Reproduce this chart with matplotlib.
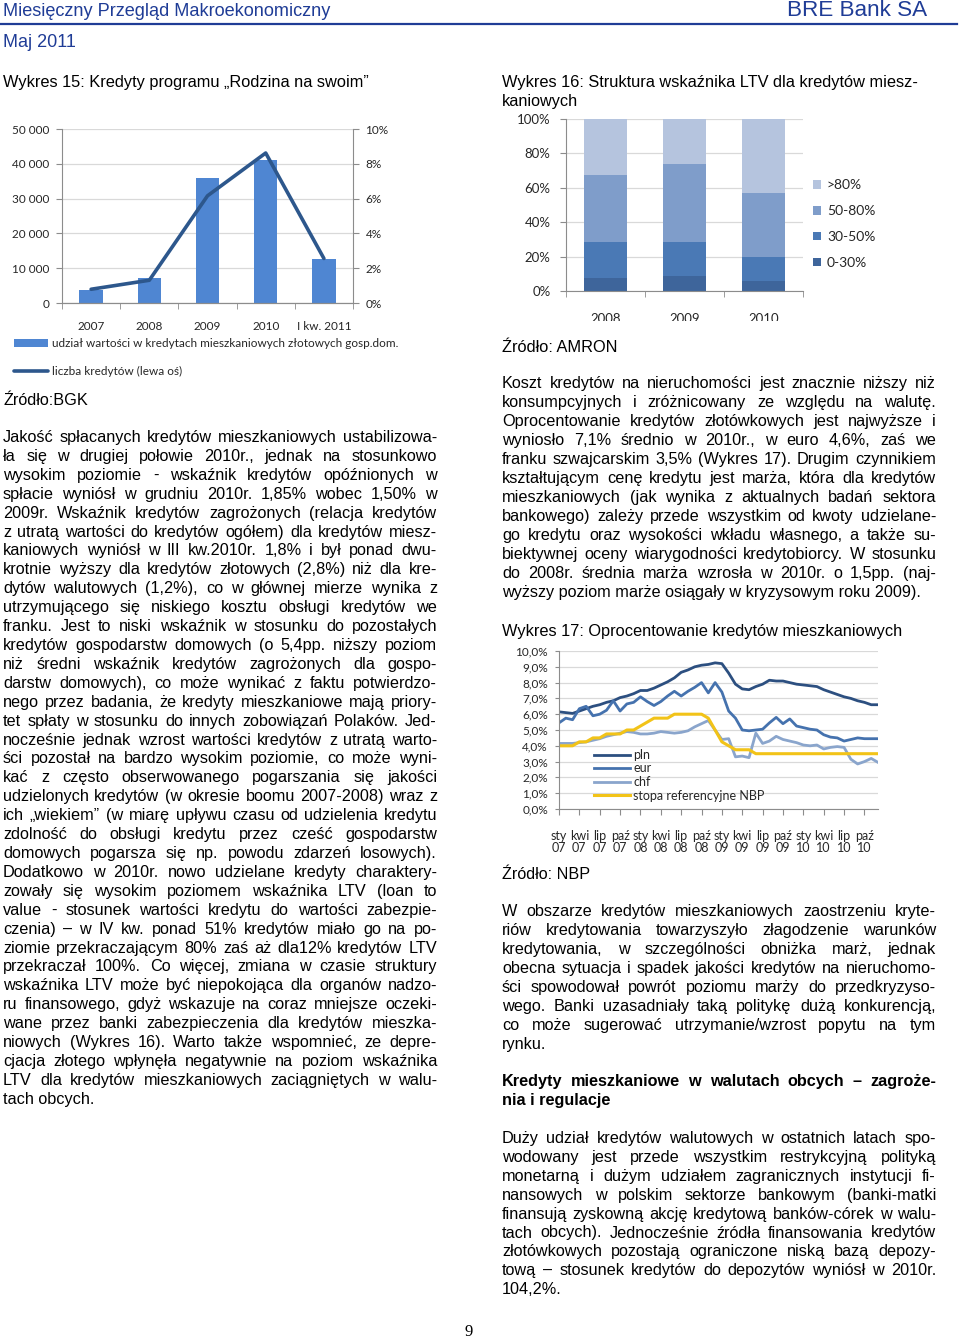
import numpy as np
import matplotlib
matplotlib.use("Agg")
import matplotlib.pyplot as plt
from matplotlib import font_manager
from matplotlib.lines import Line2D
from matplotlib.transforms import Bbox, TransformedBbox

W, H = 960, 1338
names = {f.name for f in font_manager.fontManager.ttflist}
BODY = "Liberation Sans" if "Liberation Sans" in names else "DejaVu Sans"
NARROW = "Liberation Sans Narrow" if "Liberation Sans Narrow" in names else BODY
CHART = "Lato" if "Lato" in names else BODY
NAVY = "#1f3c96"
GRID = "#d9d9d9"
AXC = "#8c8c8c"
TXT = "#262626"

#------------------------------------------------------------
# Wykres 15: Rodzina na swoim
years15 = ["2007", "2008", "2009", "2010", "I kw. 2011"]
share15 = [0.77, 1.46, 7.17, 8.23, 2.52]          # % (prawa oś)
count15 = [3950, 6540, 30800, 43100, 12800]       # liczba kredytów (lewa oś)

# Wykres 16: struktura LTV
years16 = ["2008", "2009", "2010"]
ltv_labels = ["0-30%", "30-50%", "50-80%", ">80%"]
ltv_0_30 = [7.8, 8.5, 5.8]
ltv_30_50 = [20.7, 20.0, 14.0]
ltv_50_80 = [39.1, 45.5, 37.0]
ltv_80 = [32.4, 26.0, 43.2]

# Wykres 17: oprocentowanie, sty 2007 - gru 2010
pln = [6.15, 6.10, 6.05, 6.20, 6.35, 6.50, 6.60, 6.75, 6.85, 7.05, 7.15, 7.30,
       7.50, 7.50, 7.65, 7.85, 8.05, 8.30, 8.65, 8.80, 9.00, 9.10, 9.15, 9.25,
       9.20, 8.60, 7.90, 7.60, 7.55, 7.75, 7.90, 8.15, 8.10, 8.10, 8.00, 7.90,
       7.85, 7.80, 7.75, 7.55, 7.40, 7.25, 7.10, 7.00, 6.85, 6.75, 6.60, 6.60]
eur = [5.45, 5.75, 5.65, 6.35, 6.50, 5.90, 6.00, 6.25, 6.85, 6.20, 6.65, 6.75,
       7.10, 6.80, 6.55, 6.80, 7.15, 7.45, 7.15, 7.45, 7.70, 8.00, 7.35, 8.00,
       7.40, 6.20, 5.75, 5.00, 4.95, 5.00, 5.05, 5.45, 5.80, 5.40, 5.70, 5.25,
       5.15, 5.05, 5.00, 4.70, 4.55, 4.50, 4.30, 4.40, 4.50, 4.45, 4.45, 4.45]
chf = [4.15, 4.15, 4.15, 4.20, 4.25, 4.35, 4.45, 4.60, 4.70, 4.80, 4.90, 4.85,
       4.75, 4.75, 4.80, 4.90, 4.85, 4.80, 4.85, 4.95, 5.20, 5.40, 5.60, 5.00,
       4.40, 4.45, 3.30, 3.35, 3.25, 4.80, 4.15, 4.30, 4.60, 4.40, 4.30, 4.20,
       4.05, 4.00, 4.05, 3.80, 3.90, 3.95, 3.90, 3.15, 2.85, 3.00, 3.20, 2.95]
nbp = [4.00, 4.00, 4.00, 4.25, 4.25, 4.50, 4.50, 4.75, 4.75, 4.75, 5.00, 5.00,
       5.25, 5.50, 5.75, 5.75, 5.75, 6.00, 6.00, 6.00, 6.00, 6.00, 5.75, 5.00,
       4.25, 4.00, 3.75, 3.75, 3.75, 3.50, 3.50, 3.50, 3.50, 3.50, 3.50, 3.50,
       3.50, 3.50, 3.50, 3.50, 3.50, 3.50, 3.50, 3.50, 3.50, 3.50, 3.50, 3.50]
month_names = ["sty", "kwi", "lip", "paź"]
year_short = ["07", "08", "09", "10"]

#------------------------------------------------------------
# texts
left_lines = [
    "Jakość spłacanych kredytów mieszkaniowych ustabilizowa-",
    "ła się w drugiej połowie 2010r., jednak na stosunkowo",
    "wysokim poziomie -  wskaźnik kredytów opóźnionych w",
    "spłacie wyniósł w grudniu 2010r. 1,85% wobec 1,50% w",
    "2009r.  Wskaźnik kredytów zagrożonych (relacja kredytów",
    "z utratą wartości do kredytów ogółem) dla kredytów miesz-",
    "kaniowych wyniósł w III kw.2010r. 1,8% i był ponad dwu-",
    "krotnie wyższy dla kredytów złotowych (2,8%) niż dla kre-",
    "dytów walutowych (1,2%), co w głównej mierze wynika z",
    "utrzymującego się niskiego kosztu obsługi kredytów we",
    "franku. Jest to niski wskaźnik w stosunku do pozostałych",
    "kredytów gospodarstw domowych (o 5,4pp. niższy poziom",
    "niż średni wskaźnik kredytów zagrożonych dla gospo-",
    "darstw domowych), co może wynikać z faktu potwierdzo-",
    "nego przez badania, że kredyty mieszkaniowe mają priory-",
    "tet spłaty w stosunku do innych zobowiązań Polaków. Jed-",
    "nocześnie jednak wzrost wartości kredytów z utratą warto-",
    "ści pozostał na bardzo wysokim poziomie, co może wyni-",
    "kać z często obserwowanego pogarszania się jakości",
    "udzielonych kredytów (w okresie boomu 2007-2008) wraz z",
    "ich „wiekiem” (w miarę upływu czasu od udzielenia kredytu",
    "zdolność do obsługi kredytu przez cześć gospodarstw",
    "domowych pogarsza się np.  powodu zdarzeń losowych).",
    "Dodatkowo w 2010r. nowo udzielane kredyty charaktery-",
    "zowały się wysokim poziomem wskaźnika LTV (loan to",
    "value - stosunek wartości kredytu do wartości zabezpie-",
    "czenia) – w IV kw. ponad 51% kredytów miało go na po-",
    "ziomie przekraczającym 80% zaś aż dla12% kredytów LTV",
    "przekraczał 100%. Co więcej, zmiana w czasie struktury",
    "wskaźnika LTV może być niepokojąca dla organów nadzo-",
    "ru finansowego, gdyż wskazuje na coraz mniejsze oczeki-",
    "wane przez banki zabezpieczenia dla kredytów mieszka-",
    "niowych (Wykres 16). Warto także wspomnieć, ze depre-",
    "cjacja złotego wpłynęła negatywnie na poziom wskaźnika",
    "LTV dla kredytów mieszkaniowych zaciągniętych w walu-",
    "tach obcych.",
]
right_lines1 = [
    "Koszt kredytów na nieruchomości jest znacznie niższy niż",
    "konsumpcyjnych i zróżnicowany ze względu na walutę.",
    "Oprocentowanie kredytów złotówkowych jest najwyższe i",
    "wyniosło 7,1% średnio w 2010r., w euro 4,6%, zaś we",
    "franku szwajcarskim 3,5% (Wykres 17). Drugim czynnikiem",
    "kształtującym cenę kredytu jest marża, która dla kredytów",
    "mieszkaniowych (jak wynika z aktualnych badań sektora",
    "bankowego) zależy przede wszystkim od kwoty udzielane-",
    "go kredytu oraz wysokości wkładu własnego, a także su-",
    "biektywnej oceny wiarygodności kredytobiorcy. W stosunku",
    "do 2008r. średnia marża wzrosła w 2010r. o 1,5pp. (naj-",
    "wyższy poziom marże osiągały w kryzysowym roku 2009).",
]
right_lines2 = [
    "W obszarze kredytów mieszkaniowych zaostrzeniu kryte-",
    "riów kredytowania towarzyszyło złagodzenie warunków",
    "kredytowania, w szczególności obniżka marż, jednak",
    "obecna sytuacja i spadek jakości kredytów na nieruchomo-",
    "ści spowodował powrót poziomu marży do przedkryzyso-",
    "wego. Banki uzasadniały taką politykę dużą konkurencją,",
    "co może sugerować utrzymanie/wzrost popytu na tym",
    "rynku.",
]
heading_lines = [
    "Kredyty mieszkaniowe w walutach obcych – zagroże-",
    "nia i regulacje",
]
right_lines3 = [
    "Duży udział kredytów walutowych w ostatnich latach spo-",
    "wodowany jest przede wszystkim restrykcyjną polityką",
    "monetarną i dużym udziałem zagranicznych instytucji fi-",
    "nansowych w polskim sektorze bankowym (banki-matki",
    "finansują zyskowną akcję kredytową banków-córek w walu-",
    "tach obcych). Jednocześnie źródła finansowania kredytów",
    "złotówkowych pozostają ograniczone niską bazą depozy-",
    "tową – stosunek kredytów do depozytów wyniósł w 2010r.",
    "104,2%.",
]

#------------------------------------------------------------
fig = plt.figure(figsize=(W / 100, H / 100), dpi=100)
rend = fig.canvas.get_renderer()


def fx(x):
    return x / W


def fy(y):
    return 1 - y / H


def width_of(s, **kw):
    t = fig.text(0, 0, s, **kw)
    w = t.get_window_extent(rend).width
    t.remove()
    return w


def put(x, y, s, size, **kw):
    kw.setdefault("family", BODY)
    return fig.text(fx(x), fy(y), s, fontsize=size, va="baseline", **kw)


def fitted(x, y, s, width, **kw):
    kw.setdefault("family", BODY)
    w = width_of(s, fontsize=10, **kw)
    return put(x, y, s, 10 * width / w, **kw)


def fit_size(paras, width, **kw):
    # largest font size at which every justified line still fits the column
    kw.setdefault("family", BODY)
    nat = max(width_of(" ".join(l.split()), fontsize=10, **kw)
              for p in paras for l in p[:-1])
    return min(12.5, 10 * (width - 4) / nat)


def paragraph(x, y0, lines, width, step, size=11, **kw):
    kw.setdefault("family", BODY)
    for k, line in enumerate(lines):
        y = y0 + k * step
        words = line.split()
        if k == len(lines) - 1 or len(words) == 1:
            put(x, y, line, size, **kw)
            continue
        ws = [width_of(w, fontsize=size, **kw) for w in words]
        gap = (width - sum(ws)) / (len(words) - 1)
        xx = x
        for w, ww in zip(words, ws):
            put(xx, y, w, size, **kw)
            xx += ww + gap


def axes_px(x0, y0, x1, y1):
    return fig.add_axes([fx(x0), fy(y1), (x1 - x0) / W, (y1 - y0) / H])


def style_axes(ax, left=True, right=False, size=8.5):
    for s in ["top", "right", "left", "bottom"]:
        ax.spines[s].set_visible(False)
    ax.spines["bottom"].set_visible(True)
    ax.spines["bottom"].set_color(AXC)
    if left:
        ax.spines["left"].set_visible(True)
        ax.spines["left"].set_color(AXC)
    if right:
        ax.spines["right"].set_visible(True)
        ax.spines["right"].set_color(AXC)
    ax.tick_params(colors=AXC, labelcolor=TXT, labelsize=size)


#------------------------------------------------------------
# page header
fitted(3, 16, "Miesięczny Przegląd Makroekonomiczny", 329, color=NAVY, family=NARROW)
fitted(787, 16, "BRE Bank SA", 140, color=NAVY, family=NARROW)
fig.add_artist(Line2D([0, fx(957)], [fy(24), fy(24)], color=NAVY, lw=1.6))
fitted(3, 47, "Maj 2011", 73, color=NAVY, family=NARROW)

fitted(3, 87, "Wykres 15: Kredyty programu „Rodzina na swoim”", 366)
fitted(502, 87, "Wykres 16: Struktura wskaźnika LTV dla kredytów miesz-", 418)
fitted(502, 106, "kaniowych", 76)

#------------------------------------------------------------
# Wykres 15
ax = axes_px(62, 129, 353, 303)
ax2 = ax.twinx()
x15 = np.arange(len(years15))
bars = ax2.bar(x15, share15, width=0.4, color="#4f86d2", zorder=2,
               label="udział wartości w kredytach mieszkaniowych złotowych gosp.dom.")
line, = ax.plot(x15, count15, color="#2d578c", lw=2.6, solid_capstyle="round",
                label="liczba kredytów (lewa oś)")
ax.set_zorder(ax2.get_zorder() + 1)
ax.patch.set_visible(False)
ax2.set_ylim(0, 10)
ax.set_ylim(0, 50000)
ax.set_xlim(-0.5, 4.5)
ax2.set_yticks(np.arange(0, 11, 2))
ax2.set_yticklabels([f"{v}%" for v in range(0, 11, 2)], family=CHART)
ax.set_yticks(np.arange(0, 50001, 10000))
ax.set_yticklabels([f"{v:,}".replace(",", " ") for v in range(0, 50001, 10000)], family=CHART)
ax2.grid(axis="y", color=GRID, lw=0.9, zorder=0)
ax2.set_axisbelow(True)
style_axes(ax, left=True)
style_axes(ax2, left=False, right=True)
ax.set_xticks(x15)
ax.set_xticklabels(years15, family=CHART)
ax.set_xticks(np.arange(-0.5, 5, 1), minor=True)
ax.tick_params(axis="x", which="major", length=0, pad=13)
ax.tick_params(axis="x", which="minor", length=4, colors=AXC)
ax.tick_params(axis="y", length=4, pad=5)
ax2.tick_params(axis="y", length=4, pad=5)
ax.legend(handles=[bars, line], loc="upper left", bbox_to_anchor=(fx(14), fy(338)),
          bbox_transform=fig.transFigure, frameon=False, prop={"family": CHART, "size": 8.5},
          handlelength=2.9, handleheight=0.7, labelspacing=1.45, handletextpad=0.3,
          borderpad=0, borderaxespad=0, labelcolor=TXT)

fitted(3, 405, "Źródło:BGK", 85)

#------------------------------------------------------------
# Wykres 16
ax = axes_px(566, 119, 803, 291)
x16 = np.arange(len(years16))
cols16 = ["#3e659b", "#4a79b5", "#7f9dca", "#b5c4de"]
bottom = np.zeros(len(years16))
handles = []
for vals, lab, c in zip([ltv_0_30, ltv_30_50, ltv_50_80, ltv_80], ltv_labels, cols16):
    b = ax.bar(x16, vals, bottom=bottom, width=0.55, color=c, label=lab, zorder=2)
    handles.append(b)
    bottom += np.array(vals)
ax.set_xlim(-0.5, 2.5)
ax.set_ylim(0, 100)
ax.set_yticks(np.arange(0, 101, 20))
ax.set_yticklabels([f"{v}%" for v in range(0, 101, 20)], family=CHART)
ax.grid(axis="y", color=GRID, lw=0.9, zorder=0)
ax.set_axisbelow(True)
style_axes(ax, left=True, size=9.5)
ax.set_xticks(x16)
ax.set_xticklabels(years16, family=CHART)
ax.set_xticks(np.arange(-0.5, 3, 1), minor=True)
ax.tick_params(axis="x", which="major", length=0, pad=16)
ax.tick_params(axis="x", which="minor", length=4, colors=AXC)
ax.tick_params(axis="y", length=4, pad=7)
clip = TransformedBbox(Bbox.from_extents(0, fy(321), 1, 1), fig.transFigure)
for t in ax.get_xticklabels():
    t.set_clip_box(clip)
    t.set_clip_on(True)
ax.legend(handles=handles[::-1], loc="center left", bbox_to_anchor=(fx(813), fy(224)),
          bbox_transform=fig.transFigure, frameon=False, prop={"family": CHART, "size": 10},
          handlelength=0.6, handleheight=0.6, labelspacing=1.0, handletextpad=0.4,
          borderpad=0, borderaxespad=0, labelcolor=TXT)

fitted(502, 352, "Źródło: AMRON", 116)

#------------------------------------------------------------
# Wykres 17
ax = axes_px(559, 651, 878, 809)
t17 = np.arange(len(pln))
ax.plot(t17, pln, color="#2c4f80", lw=2.0, label="pln")
ax.plot(t17, eur, color="#4572ae", lw=2.0, label="eur")
ax.plot(t17, chf, color="#8aa5cc", lw=2.0, label="chf")
ax.plot(t17, nbp, color="#f2c318", lw=2.2, label="stopa referencyjne NBP")
ax.set_xlim(0, len(pln) - 1)
ax.set_ylim(0, 10)
ax.set_yticks(np.arange(0, 11, 1))
ax.set_yticklabels([f"{v},0%" for v in range(11)], family=CHART)
ax.grid(axis="y", color=GRID, lw=0.9)
ax.set_axisbelow(True)
style_axes(ax, left=True, size=8.5)
ax.set_xticks(np.arange(0, 48, 3))
ax.set_xticklabels([f"{m}\n{y}" for y in year_short for m in month_names],
                   family=CHART, linespacing=1.05)
ax.tick_params(axis="x", length=4, pad=11, labelsize=9)
ax.tick_params(axis="y", length=3, pad=5)
ax.legend(loc="upper left", bbox_to_anchor=(fx(594), fy(749)),
          bbox_transform=fig.transFigure, frameon=False, prop={"family": CHART, "size": 9},
          handlelength=2.9, labelspacing=0.12, handletextpad=0.25,
          borderpad=0, borderaxespad=0, labelcolor=TXT)

fitted(502, 636, "Wykres 17: Oprocentowanie kredytów mieszkaniowych", 400)
fitted(502, 879, "Źródło: NBP", 88)

#------------------------------------------------------------
# body text
size_left = fit_size([left_lines], 434)
size_right = fit_size([right_lines1, right_lines2, right_lines3], 434)
paragraph(3, 442, left_lines, 434, 18.91, size=size_left)
paragraph(502, 388, right_lines1, 434, 19.0, size=size_right)
paragraph(502, 916, right_lines2, 434, 19.0, size=size_right)
paragraph(502, 1086, heading_lines, 434, 19.0, size=size_right, weight="bold")
paragraph(502, 1143, right_lines3, 434, 18.9, size=size_right)

put(469, 1336, "9", 12, family="Liberation Serif", ha="center")

fig.savefig("out.png", dpi=100)
